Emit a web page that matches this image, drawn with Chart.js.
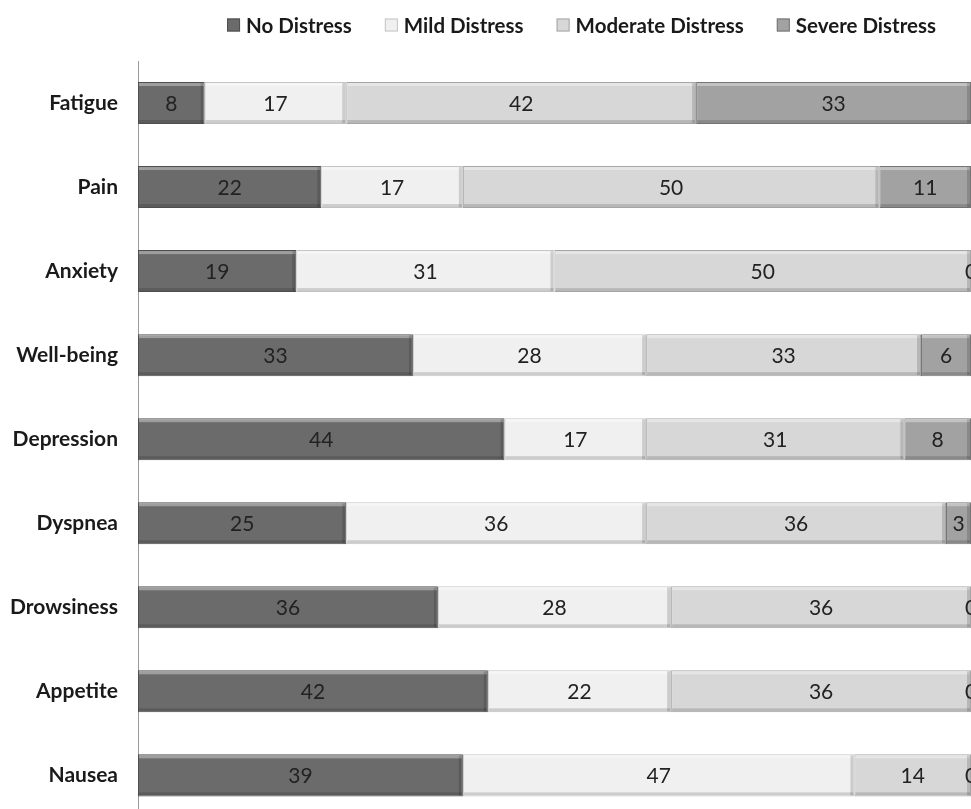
<!DOCTYPE html>
<html>
<head>
<meta charset="utf-8">
<script src="https://cdn.jsdelivr.net/npm/chart.js@4.4.1/dist/chart.umd.min.js"></script>
<style>
  body { margin: 0; background: #fff; overflow: hidden; }
</style>
</head>
<body>
<!-- taller than the window on purpose: the plot runs past the bottom edge like the source -->
<canvas id="myChart" width="971" height="850"></canvas>
<script>
const symptoms = ["Fatigue", "Pain", "Anxiety", "Well-being", "Depression", "Dyspnea", "Drowsiness", "Appetite", "Nausea"];
const noDistress = [8, 22, 19, 33, 44, 25, 36, 42, 39];
const mildDistress = [17, 17, 31, 28, 17, 36, 28, 22, 47];
const moderateDistress = [42, 50, 50, 33, 31, 36, 36, 36, 14];
const severeDistress = [33, 11, 0, 6, 8, 3, 0, 0, 0];

// bevel look + the value in the middle of each segment
const barLabels = {
  id: "barLabels",
  afterDatasetsDraw(chart) {
    const ctx = chart.ctx;
    ctx.save();
    chart.data.datasets.forEach((ds, i) => {
      chart.getDatasetMeta(i).data.forEach((bar) => {
        const { x, y, base, height } = bar.getProps(["x", "y", "base", "height"], true);
        const top = y - height / 2;
        const w = x - base;
        if (w <= 0) return;
        ctx.fillStyle = "rgba(255,255,255,0.35)";
        ctx.fillRect(base + 1, top + 1, w - 2, 3);
        ctx.fillStyle = "rgba(0,0,0,0.15)";
        ctx.fillRect(base + 1, top + height - 4, w - 2, 3);
        ctx.fillRect(x - 4, top + 1, 3, height - 2);
      });
    });
    ctx.font = "21px Lato";
    ctx.fillStyle = "#222";
    ctx.textAlign = "center";
    ctx.textBaseline = "middle";
    chart.data.datasets.forEach((ds, i) => {
      chart.getDatasetMeta(i).data.forEach((bar, j) => {
        const p = bar.getCenterPoint();
        ctx.fillText(ds.data[j], p.x, p.y + 1);
      });
    });
    ctx.restore();
  }
};

// legend drawn right-aligned above the plot
const topLegend = {
  id: "topLegend",
  afterDraw(chart) {
    const ctx = chart.ctx;
    const right = 936, cy = 25, box = 13, gap = 6, spacing = 33;
    ctx.save();
    ctx.font = "bold 20.5px Lato";
    ctx.textBaseline = "middle";
    ctx.textAlign = "left";
    const items = chart.data.datasets.map((ds) => ({ ds, w: ctx.measureText(ds.label).width }));
    let total = items.reduce((s, it) => s + box + gap + it.w, 0) + spacing * (items.length - 1);
    let x = right - total;
    items.forEach((it) => {
      ctx.fillStyle = it.ds.backgroundColor;
      ctx.fillRect(x, cy - box / 2, box, box);
      ctx.strokeStyle = it.ds.borderColor;
      ctx.lineWidth = 1;
      ctx.strokeRect(x + 0.5, cy - box / 2 + 0.5, box - 1, box - 1);
      ctx.fillStyle = "#1a1a1a";
      ctx.fillText(it.ds.label, x + box + gap, cy + 1);
      x += box + gap + it.w + spacing;
    });
    ctx.restore();
  }
};

const ctx = document.getElementById("myChart");
new Chart(ctx, {
  type: "bar",
  data: {
    labels: symptoms,
    datasets: [
      { label: "No Distress", data: noDistress, backgroundColor: "#6b6b6b", borderColor: "#4f4f4f" },
      { label: "Mild Distress", data: mildDistress, backgroundColor: "#f0f0f0", borderColor: "#c4c4c4" },
      { label: "Moderate Distress", data: moderateDistress, backgroundColor: "#d7d7d7", borderColor: "#a6a6a6" },
      { label: "Severe Distress", data: severeDistress, backgroundColor: "#a2a2a2", borderColor: "#757575" }
    ]
  },
  options: {
    indexAxis: "y",
    responsive: false,
    animation: false,
    layout: { padding: { top: 61, right: 0, bottom: 1, left: 0 } },
    datasets: {
      bar: { barPercentage: 0.5, categoryPercentage: 1, borderWidth: 1, borderSkipped: false }
    },
    scales: {
      x: {
        stacked: true,
        min: 0,
        max: 100,
        display: false
      },
      y: {
        stacked: true,
        grid: { display: false, drawTicks: false },
        border: { display: true, color: "#9a9a9a", width: 1 },
        ticks: { color: "#1a1a1a", font: { family: "Lato", size: 21, weight: "bold" }, padding: 20 },
        afterFit(scale) { scale.width = 138; }
      }
    },
    plugins: {
      legend: { display: false },
      tooltip: { enabled: false }
    }
  },
  plugins: [barLabels, topLegend]
});
</script>
</body>
</html>
